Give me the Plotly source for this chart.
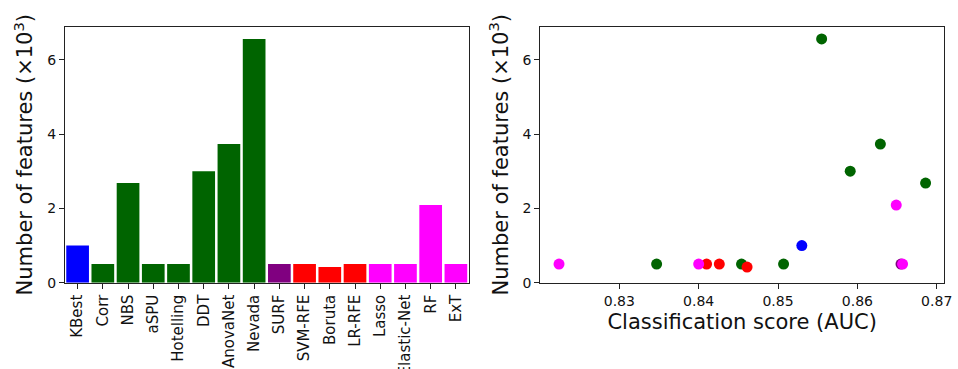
import plotly.graph_objects as go

# Feature-selection methods and their colour groups
methods = ["KBest", "Corr", "NBS", "aSPU", "Hotelling", "DDT", "AnovaNet", "Nevada",
           "SURF", "SVM-RFE", "Boruta", "LR-RFE", "Lasso", "Elastic-Net", "RF", "ExT"]
n_features = [1.00, 0.50, 2.68, 0.50, 0.50, 3.00, 3.73, 6.56,
              0.50, 0.50, 0.42, 0.50, 0.50, 0.50, 2.09, 0.50]  # x10^3
auc = [0.8530, 0.8347, 0.8686, 0.8454, 0.8507, 0.8591, 0.8629, 0.8555,
       0.8655, 0.8410, 0.8461, 0.8426, 0.8224, 0.8400, 0.8649, 0.8657]
colors = ["#0000ff", "#006400", "#006400", "#006400", "#006400", "#006400", "#006400", "#006400",
          "#800080", "#ff0000", "#ff0000", "#ff0000", "#ff00ff", "#ff00ff", "#ff00ff", "#ff00ff"]

y_ticks = [0, 2, 4, 6]
auc_ticks = [0.83, 0.84, 0.85, 0.86, 0.87]

W, H = 958, 369
FONT = "DejaVu Sans"
AX = dict(showline=True, linecolor="#222", linewidth=1, mirror=True,
          ticks="outside", ticklen=5, tickcolor="#222", showgrid=False,
          zeroline=False, automargin=False,
          tickfont=dict(family=FONT, size=14, color="#111"))

fig = go.Figure()
fig.add_trace(go.Bar(x=methods, y=n_features, marker=dict(color=colors, line=dict(width=0)),
                     xaxis="x", yaxis="y", showlegend=False))
fig.add_trace(go.Scatter(x=auc, y=n_features, mode="markers",
                         marker=dict(color=colors, size=11, line=dict(width=0)),
                         xaxis="x2", yaxis="y2", showlegend=False))

ydom = [1 - 282.7 / H, 1 - 26.7 / H]
ytitle = dict(text="Number of features (×10<sup>3</sup>)",
              font=dict(family=FONT, size=21, color="#111"), standoff=8)

fig.update_layout(
    width=W, height=H, margin=dict(l=0, r=0, t=0, b=0),
    paper_bgcolor="white", plot_bgcolor="white", bargap=0.1,
    xaxis=dict(AX, domain=[65 / W, 468.5 / W], range=[-0.5, 15.5], tickangle=-90,
               type="category", tickfont=dict(family=FONT, size=15, color="#111")),
    yaxis=dict(AX, domain=ydom, range=[0, 6.89], tickvals=y_ticks, title=ytitle),
    xaxis2=dict(AX, domain=[540.3 / W, 944 / W], range=[0.82004, 0.87092],
                tickvals=auc_ticks, tickformat=".2f", anchor="y2",
                title=dict(text="Classification score (AUC)",
                           font=dict(family=FONT, size=21, color="#111"), standoff=6)),
    yaxis2=dict(AX, domain=ydom, range=[0, 6.89], tickvals=y_ticks, anchor="x2",
                title=ytitle),
)

fig.write_html("out.html")
